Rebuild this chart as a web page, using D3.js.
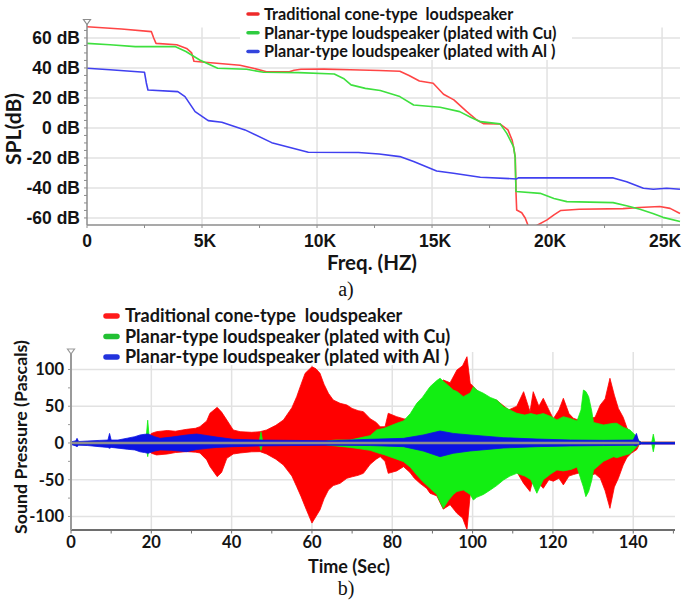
<!DOCTYPE html>
<html><head><meta charset="utf-8">
<script src="https://cdn.jsdelivr.net/npm/d3@7"></script>
<style>body{margin:0;background:#fff}svg{display:block}</style>
</head><body>
<svg id="c" width="682" height="604"></svg>
<script>
// ---------------- DATA ----------------
const legendNames = [
  "Traditional cone-type  loudspeaker",
  "Planar-type loudspeaker (plated with Cu)",
  "Planar-type loudspeaker (plated with Al )"
];
// Panel a: frequency (Hz) vs SPL (dB)
const splTraditional = [[0,67.5],[1500,66],[2800,64.2],[2900,60],[3000,56.4],[3900,55.5],[4330,53],[4550,50],[4650,44.5],[5000,44],[5640,43.1],[6650,41.8],[7230,39.8],[7800,37.4],[8800,37.4],[9000,38.5],[9300,39.1],[10300,39.2],[11450,38.8],[12700,38.3],[13600,37.8],[14000,35],[14450,31.3],[15050,29.8],[15500,22.5],[15950,18.7],[16500,11],[16950,5.3],[17250,2.8],[17950,2.7],[18300,-1.3],[18480,-8],[18560,-14],[18620,-20],[18650,-43],[18680,-54.7],[18900,-56.5],[19050,-60],[19200,-66],[19550,-65],[20000,-61.3],[20300,-58],[20600,-55],[21400,-54.2],[23300,-53.8],[24000,-53],[24900,-52.4],[25350,-53.6],[25780,-57]];
const splCu = [[0,56.4],[1000,55.5],[2100,54.2],[3850,54.2],[4300,51],[4900,45.3],[5300,42.5],[5680,39.8],[6940,39.1],[7670,37.1],[9200,36.9],[10750,36],[11150,33],[11480,28.7],[12100,26.4],[12750,25],[13600,20.9],[14200,15.3],[15350,13.8],[16200,10.9],[16700,7],[17100,4.2],[17960,2.7],[18250,-3.6],[18540,-12.4],[18610,-19],[18650,-42.4],[19700,-43.6],[20300,-47],[20860,-49.1],[22870,-49.8],[23500,-52],[24040,-54.2],[24600,-57],[25040,-59.6],[25780,-62.4]];
const splAl = [[0,39.8],[1000,38.8],[2500,37.1],[2580,30],[2650,25.3],[3950,24.2],[4260,20.9],[4700,10.9],[5270,4.9],[5860,3.8],[6870,-1.3],[8030,-9.8],[9620,-16.2],[11800,-16.4],[12700,-17.4],[13600,-19.1],[14200,-22.4],[15200,-28.7],[15930,-30.2],[17100,-32.9],[18680,-34],[18750,-33.3],[22880,-33.3],[23460,-35.8],[24190,-40.2],[24620,-40.9],[25200,-40.2],[25780,-40.9]];
const freqTicks = [0,5000,10000,15000,20000,25000];
const freqTickLabels = ["0","5K","10K","15K","20K","25K"];
const splTicks = [60,40,20,0,-20,-40,-60];
const splTickLabels = ["60 dB","40 dB","20 dB","0 dB","-20 dB","-40 dB","-60 dB"];

// Panel b: time (s), upper envelope, lower envelope (Pascals)
const pressTraditional = [[19,2,-2],[20,13,-14],[21.3,15.4,-16.3],[24,17,-15],[26,16,-13],[28.8,18.6,-11.8],[31,20,-12.5],[32.1,22.2,-13.6],[33.8,30,-23],[34.6,40.4,-32],[36.4,48.5,-45.8],[37.5,42,-40],[38.8,31.3,-20.9],[40.4,17.7,-15],[42.1,15.4,-13.6],[45,14.5,-12],[47.1,15.4,-11.8],[48.7,17.7,-15],[51,24,-22],[52.9,31.3,-30],[55,48,-45],[56.2,63,-59.4],[57.3,80,-73],[58.3,94.8,-86.7],[60,103.8,-109],[61,101,-100],[62,94.8,-91],[63,80,-76],[64.1,67.6,-64],[65.3,58.5,-58],[67,54,-54.9],[68.7,51.7,-48],[70,47,-46],[71.5,44,-44],[72.8,42.6,-41.3],[74.5,33,-29],[76,28,-22],[77,22,-18.6],[78.2,22.2,-25],[79,40.4,-41.3],[81.1,35.8,-38],[82.8,33,-32.2],[84.4,31.3,-40],[85.5,40,-48],[86.9,54,-54.9],[88.6,67.6,-62],[89.4,70,-68.4],[91.1,78,-72],[92.7,85.7,-90],[94.4,82,-84],[96.1,99.3,-95.7],[97.5,105,-102],[98.6,117.4,-118],[99.4,81.2,-70.7],[101,72,-57],[103,62,-52],[106,58,-48],[109,45,-40],[111,50,-39],[112.7,69.8,-55],[114.3,42.6,-66],[115.1,69.8,-48],[116.5,50,-55],[117.6,60.8,-61.7],[119,45,-50],[120.1,33,-52],[121.5,45,-48],[122.6,60.8,-57],[124,40,-45],[125.1,33.6,-43],[127,30,-40],[129,33,-45],[130.5,35,-42],[131.8,51.7,-48],[133,60,-65],[134.2,88,-88.9],[135.3,65,-60],[136.3,47,-48],[137.5,35,-30],[138.4,21.2,-20],[139.5,12,-14],[140.9,5,-9],[141.5,2,-2],[142,1.2,-1.2],[150.4,1.2,-1.2]];
const pressCu = [[18.6,0,0],[19.1,31,-18.6],[19.6,0,0],[46.8,0,0],[47.3,15,-10],[47.8,0,0],[62,0,0],[64,3,-3],[66,4,-4],[69.5,4,-6],[72,7,-8],[74.5,10,-10],[76.1,17.7,-13],[78,20,-16],[81.1,26.8,-22],[82.8,30,-25.4],[84.5,40,-33],[86.1,54,-43.5],[87.5,62,-52],[89.4,76.6,-61.7],[91.1,85,-70],[91.9,88,-80],[92.7,84,-88.9],[94,78,-78],[95.2,72,-70],[96.1,70,-66],[97.7,63,-64],[99.4,68,-70],[100.2,76.6,-77.6],[101,72,-74],[102.7,67.6,-70],[104.4,62,-64],[106,58.5,-58],[107.7,49.4,-50.3],[109.3,44.9,-45],[111,40.4,-41.3],[113,38,-45],[114.5,40,-50],[116,38,-68.4],[117.6,40,-50],[119.5,36,-42],[121,31.3,-36.7],[122.6,35.8,-38],[124.5,33,-36],[126,29.9,-32.7],[127,45,-50],[127.6,72,-60],[128.2,70,-73],[128.9,63,-66],[129.7,42.6,-50],[130.1,28,-36.7],[132.6,24.5,-25],[135.1,26.8,-18.6],[135.9,26.8,-20],[137.6,21.2,-17],[139.2,17.7,-14.5],[140.9,8.6,-5],[141.4,3,-2],[142,0.8,-0.8],[144.6,0.8,-0.8],[145,12,-12],[145.4,0.8,-0.8],[150.4,0.8,-0.8]];
const pressAl = [[0,1.5,-2],[1.2,3,-4],[1.5,6.3,-5],[1.9,2,-3],[4.2,2.7,-3.5],[7,3.5,-5],[9.2,4,-6],[9.6,13,-7.3],[10,4,-6],[11.7,4,-7],[14,6.5,-8.5],[15.9,8.6,-9.5],[17.2,10.9,-12],[18.3,11.8,-13],[19.2,12.2,-14],[20.8,8.6,-11],[22.2,6.3,-9.5],[25,8,-10],[28.8,10.9,-11.8],[31.3,12.2,-9],[34,10,-7.3],[36.3,8,-6],[40.4,5,-5],[47.1,4,-4],[55,3.5,-3.5],[65,3,-3],[74.5,5,-3.5],[82.8,6.3,-5],[87.7,10.9,-10.9],[91.9,16.3,-18.6],[95.2,13,-14],[99.4,10.9,-10.9],[107.7,7.2,-6.8],[116,5.4,-5],[124.4,4,-4],[132.6,3.6,-3.5],[140,4,-3],[140.8,13,-4],[141.3,3,-2],[142,0.8,-1.5],[150.4,0.8,-1.5]];
const timeTicks = [0,20,40,60,80,100,120,140];
const pressTicks = [100,50,0,-50,-100];

// ---------------- STYLE ----------------
const lineColors = ["#ff4545","#3ee03e","#4040f0"];
const fillColors = ["#ff0000","#12ee12","#0c14e2"];
const legendColorsA = ["#ee2a2a","#2ecc40","#3344dd"];
const legendColorsB = ["#ff1a1a","#22c033","#2233dd"];
const gridColor = "#e2e2e2";
const axisColor = "#8c8c8c";
const textColor = "#141414";
const sansBold = "Lato, 'Open Sans', sans-serif";

const svg = d3.select("#c");

// ================= PANEL A =================
const xA = d3.scaleLinear().domain([0,25780]).range([87,680]);
const yA = d3.scaleLinear().domain([-64.7,70.3]).range([225,22.5]);

svg.append("clipPath").attr("id","clipA").append("rect")
  .attr("x",87).attr("y",22).attr("width",594).attr("height",203);

const gA = svg.append("g");
gA.selectAll("line.vg").data(freqTicks.slice(1)).join("line")
  .attr("x1",d=>xA(d)).attr("x2",d=>xA(d)).attr("y1",yA(67)).attr("y2",yA(-64.7))
  .attr("stroke",gridColor).attr("stroke-width",1.5);
gA.selectAll("line.hg").data(splTicks).join("line")
  .attr("x1",xA(0)).attr("x2",xA(25780)).attr("y1",d=>yA(d)).attr("y2",d=>yA(d))
  .attr("stroke",gridColor).attr("stroke-width",1.5);

const lineA = d3.line().x(d=>xA(d[0])).y(d=>yA(d[1]));
const curvesA = [splTraditional, splCu, splAl];
const gC = gA.append("g").attr("clip-path","url(#clipA)");
curvesA.forEach((s,i)=>{
  gC.append("path").attr("d",lineA(s)).attr("fill","none")
    .attr("stroke",lineColors[i]).attr("stroke-width",1.6).attr("stroke-linejoin","round");
});

gA.append("line").attr("x1",xA(0)).attr("x2",xA(25780)).attr("y1",yA(-64.7)).attr("y2",yA(-64.7))
  .attr("stroke",axisColor).attr("stroke-width",1.5);
gA.append("line").attr("x1",xA(0)).attr("x2",xA(0)).attr("y1",yA(-64.7)).attr("y2",yA(70.3))
  .attr("stroke",axisColor).attr("stroke-width",1.5);
gA.selectAll("line.xt").data(d3.range(0,25781,2500)).join("line")
  .attr("x1",d=>xA(d)).attr("x2",d=>xA(d)).attr("y1",yA(-64.7)).attr("y2",yA(-64.7)+3)
  .attr("stroke",axisColor);
gA.selectAll("line.yt").data(d3.range(-60,70,5)).join("line")
  .attr("x1",xA(0)-3).attr("x2",xA(0)).attr("y1",d=>yA(d)).attr("y2",d=>yA(d))
  .attr("stroke",axisColor);
gA.append("path").attr("d",`M${xA(0)-3.5},${yA(70.3)-3} L${xA(0)+3.5},${yA(70.3)-3} L${xA(0)},${yA(70.3)+2} Z`)
  .attr("fill","#fff").attr("stroke",axisColor).attr("stroke-width",1.2);

gA.selectAll("text.yl").data(splTicks).join("text")
  .attr("x",80).attr("y",d=>yA(d)+6.3).attr("text-anchor","end")
  .attr("font-family","'Liberation Sans', Arial, sans-serif").attr("font-weight","bold")
  .attr("font-size",17.5).attr("fill",textColor).text((d,i)=>splTickLabels[i]);
gA.selectAll("text.xl").data(freqTicks).join("text")
  .attr("x",d=>xA(d)+ (d===0?0:3)).attr("y",247).attr("text-anchor","middle")
  .attr("font-family","'Liberation Sans', Arial, sans-serif").attr("font-weight","bold")
  .attr("font-size",17.5).attr("fill",textColor).text((d,i)=>freqTickLabels[i]);
gA.append("text").attr("x",372).attr("y",270).attr("text-anchor","middle")
  .attr("font-family",sansBold).attr("font-weight","bold").attr("font-size",20.5)
  .attr("fill",textColor).text("Freq. (HZ)");
gA.append("text").attr("transform","translate(21,129) rotate(-90)").attr("text-anchor","middle")
  .attr("font-family",sansBold).attr("font-weight","bold").attr("font-size",21)
  .attr("fill",textColor).text("SPL(dB)");

gA.append("rect").attr("x",240).attr("y",0).attr("width",332).attr("height",60).attr("fill","#fff");
const legA = gA.append("g");
legendNames.forEach((n,i)=>{
  const cy = 14 + i*18.7;
  legA.append("line").attr("x1",248).attr("x2",258).attr("y1",cy).attr("y2",cy)
    .attr("stroke",legendColorsA[i]).attr("stroke-width",3.5).attr("stroke-linecap","round");
  legA.append("text").attr("x",264).attr("y",cy+5.8).attr("font-family",sansBold)
    .attr("font-weight","bold").attr("font-size",16.2).attr("fill",textColor)
    .style("white-space","pre").text(n);
});

svg.append("text").attr("x",346).attr("y",296).attr("text-anchor","middle")
  .attr("font-family","'Liberation Serif', 'DejaVu Serif', serif").attr("font-size",20)
  .attr("fill","#111").text("a)");

// ================= PANEL B =================
const xB = d3.scaleLinear().domain([0,150.4]).range([71,675]);
const yB = d3.scaleLinear().domain([-118.4,123.8]).range([530,352]);

svg.append("clipPath").attr("id","clipB").append("rect")
  .attr("x",71).attr("y",352).attr("width",604).attr("height",178);

const gB = svg.append("g");
gB.selectAll("line.vg").data(timeTicks.slice(1)).join("line")
  .attr("x1",d=>xB(d)).attr("x2",d=>xB(d)).attr("y1",yB(123.8)).attr("y2",yB(-118.4))
  .attr("stroke",gridColor).attr("stroke-width",1.5);
gB.selectAll("line.hg").data(pressTicks).join("line")
  .attr("x1",xB(0)).attr("x2",xB(150.4)).attr("y1",d=>yB(d)).attr("y2",d=>yB(d))
  .attr("stroke",gridColor).attr("stroke-width",1.5);

const areaB = d3.area().x(d=>xB(d[0])).y0(d=>yB(d[2])).y1(d=>yB(d[1]));
const gF = gB.append("g").attr("clip-path","url(#clipB)");
[pressTraditional, pressCu, pressAl].forEach((s,i)=>{
  gF.append("path").attr("d",areaB(s)).attr("fill",fillColors[i])
    .attr("stroke",fillColors[i]).attr("stroke-width",0.8);
});
gF.append("line").attr("x1",xB(0)).attr("x2",xB(141.5)).attr("y1",yB(0)).attr("y2",yB(0))
  .attr("stroke","#8e8e8e").attr("stroke-width",2.5);

gB.append("line").attr("x1",xB(0)).attr("x2",xB(150.4)).attr("y1",yB(-118.4)).attr("y2",yB(-118.4))
  .attr("stroke","#6e6e6e").attr("stroke-width",1.8);
gB.append("line").attr("x1",xB(0)).attr("x2",xB(0)).attr("y1",yB(-118.4)).attr("y2",yB(123.8))
  .attr("stroke","#9a9a9a").attr("stroke-width",2);
gB.selectAll("line.xt").data(d3.range(0,151,10)).join("line")
  .attr("x1",d=>xB(d)).attr("x2",d=>xB(d)).attr("y1",yB(-118.4)).attr("y2",yB(-118.4)+3.5)
  .attr("stroke","#6e6e6e");
gB.selectAll("line.yt").data(d3.range(-100,101,25)).join("line")
  .attr("x1",xB(0)-3).attr("x2",xB(0)).attr("y1",d=>yB(d)).attr("y2",d=>yB(d))
  .attr("stroke","#9a9a9a");
gB.append("path").attr("d",`M${xB(0)-3.5},${yB(123.8)-3} L${xB(0)+3.5},${yB(123.8)-3} L${xB(0)},${yB(123.8)+2} Z`)
  .attr("fill","#fff").attr("stroke","#9a9a9a").attr("stroke-width",1.2);

gB.selectAll("text.yl").data(pressTicks).join("text")
  .attr("x",64).attr("y",d=>yB(d)+5.8).attr("text-anchor","end")
  .attr("font-family",sansBold).attr("font-weight","bold").attr("font-size",16.5)
  .attr("fill",textColor).text(d=>d);
gB.selectAll("text.xl").data(timeTicks).join("text")
  .attr("x",d=>xB(d)).attr("y",548).attr("text-anchor","middle")
  .attr("font-family",sansBold).attr("font-weight","bold").attr("font-size",16.5)
  .attr("fill",textColor).text(d=>d);
gB.append("text").attr("x",349).attr("y",573).attr("text-anchor","middle")
  .attr("font-family",sansBold).attr("font-weight","bold").attr("font-size",18)
  .attr("fill",textColor).text("Time (Sec)");
gB.append("text").attr("transform","translate(27,437) rotate(-90)").attr("text-anchor","middle")
  .attr("font-family",sansBold).attr("font-weight","bold").attr("font-size",17.8)
  .attr("fill",textColor).text("Sound Pressure (Pascals)");

gB.append("rect").attr("x",100).attr("y",302).attr("width",362).attr("height",63).attr("fill","#fff");
legendNames.forEach((n,i)=>{
  const cy = 316 + i*20.5;
  gB.append("line").attr("x1",106).attr("x2",117).attr("y1",cy).attr("y2",cy)
    .attr("stroke",legendColorsB[i]).attr("stroke-width",5.5).attr("stroke-linecap","round");
  gB.append("text").attr("x",125).attr("y",cy+6).attr("font-family",sansBold)
    .attr("font-weight","bold").attr("font-size",18).attr("fill",textColor)
    .style("white-space","pre").text(n);
});

svg.append("text").attr("x",346).attr("y",595).attr("text-anchor","middle")
  .attr("font-family","'Liberation Serif', 'DejaVu Serif', serif").attr("font-size",20)
  .attr("fill","#111").text("b)");
</script>
</body></html>
